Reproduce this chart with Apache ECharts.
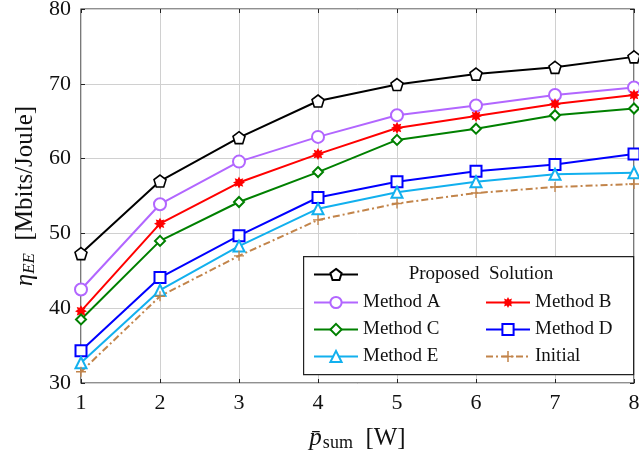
<!DOCTYPE html>
<html>
<head>
<meta charset="utf-8">
<script src="https://cdn.jsdelivr.net/npm/echarts@6/dist/echarts.min.js"></script>
<style>
  html, body { margin: 0; padding: 0; background: #fff; }
  #main { width: 639px; height: 452px; }
</style>
</head>
<body>
<div id="main"></div>
<script>
// x axis values
var xVals = [1, 2, 3, 4, 5, 6, 7, 8];

var proposed = [47.3, 57.0, 62.8, 67.7, 69.9, 71.3, 72.2, 73.6];
var methodA  = [42.5, 53.9, 59.6, 62.9, 65.8, 67.1, 68.5, 69.5];
var methodB  = [39.6, 51.3, 56.8, 60.6, 64.1, 65.7, 67.3, 68.5];
var methodC  = [38.5, 49.0, 54.2, 58.2, 62.5, 64.0, 65.8, 66.7];
var methodD  = [34.3, 44.1, 49.7, 54.8, 56.9, 58.3, 59.2, 60.6];
var methodE  = [32.7, 42.4, 48.3, 53.3, 55.5, 56.9, 57.9, 58.1];
var initial  = [31.5, 41.6, 47.0, 51.8, 54.0, 55.4, 56.2, 56.6];

var yTicks = [30, 40, 50, 60, 70, 80];

function pairs(arr) {
  var out = [];
  for (var i = 0; i < xVals.length; i++) out.push([xVals[i], arr[i]]);
  return out;
}

// marker shapes
function starPath(n, ro, ri) {
  var s = 'path://';
  for (var i = 0; i < n * 2; i++) {
    var r = i % 2 === 0 ? ro : ri;
    var a = Math.PI * i / n - Math.PI / 2;
    s += (i === 0 ? 'M' : 'L') + (r * Math.cos(a)).toFixed(2) + ',' + (r * Math.sin(a)).toFixed(2) + ' ';
  }
  return s + 'Z';
}
var pentagon = 'path://M0,-10 L9.51,-3.09 L5.88,8.09 L-5.88,8.09 L-9.51,-3.09 Z';
var plus = 'path://M-0.8,-6 L0.8,-6 L0.8,-0.8 L6,-0.8 L6,0.8 L0.8,0.8 L0.8,6 L-0.8,6 L-0.8,0.8 L-6,0.8 L-6,-0.8 L-0.8,-0.8 Z';

var serif = 'Liberation Serif';

function mk(name, data, color, symbol, size, hollow, dash) {
  return {
    name: name,
    type: 'line',
    data: pairs(data),
    symbol: symbol,
    symbolSize: size,
    showAllSymbol: true,
    lineStyle: { color: color, width: 2, type: dash || 'solid' },
    itemStyle: hollow
      ? { color: '#fff', borderColor: color, borderWidth: 1.6 }
      : { color: color, borderColor: color, borderWidth: 0 },
    z: 5
  };
}

var myChart = echarts.init(document.getElementById('main'));

var option = {
  backgroundColor: '#fff',
  animation: false,
  grid: {
    left: 81, right: 5, top: 9, bottom: 69,
    outerBoundsMode: 'none', containLabel: false,
    show: true, borderColor: '#222', borderWidth: 1.2
  },
  xAxis: [{
    type: 'value', min: 1, max: 8, interval: 1,
    axisLine: { show: false },
    axisTick: { inside: true, length: 4, lineStyle: { color: '#222' } },
    axisLabel: { fontFamily: serif, fontSize: 22, color: '#111', margin: 9 },
    splitLine: { lineStyle: { color: '#d0d0d0', width: 1 } },
    name: '{p|p̄}{s|sum}  [W]',
    nameLocation: 'middle',
    nameGap: 42,
    nameTextStyle: {
      fontFamily: serif, fontSize: 25, color: '#111',
      rich: {
        p: { fontFamily: serif, fontSize: 25, fontStyle: 'italic', color: '#111' },
        s: { fontFamily: serif, fontSize: 18, color: '#111', padding: [9, 0, 0, 1] }
      }
    }
  }, {
    type: 'value', min: 1, max: 8, interval: 1, position: 'top',
    axisLine: { show: false },
    axisTick: { inside: true, length: 4, lineStyle: { color: '#222' } },
    axisLabel: { show: false },
    splitLine: { show: false }
  }],
  yAxis: [{
    type: 'value', min: yTicks[0], max: yTicks[yTicks.length - 1], interval: 10,
    axisLine: { show: false },
    axisTick: { inside: true, length: 4, lineStyle: { color: '#222' } },
    axisLabel: { fontFamily: serif, fontSize: 22, color: '#111', margin: 10 },
    splitLine: { lineStyle: { color: '#d0d0d0', width: 1 } },
    name: '{e|η}{s|EE}  [Mbits/Joule]',
    nameLocation: 'middle',
    nameGap: 43,
    nameTextStyle: {
      fontFamily: serif, fontSize: 25, color: '#111',
      rich: {
        e: { fontFamily: serif, fontSize: 25, fontStyle: 'italic', color: '#111' },
        s: { fontFamily: serif, fontSize: 17, fontStyle: 'italic', color: '#111', padding: [9, 0, 0, 0] }
      }
    }
  }, {
    type: 'value', min: yTicks[0], max: yTicks[yTicks.length - 1], interval: 10, position: 'right',
    axisLine: { show: false },
    axisTick: { inside: true, length: 4, lineStyle: { color: '#222' } },
    axisLabel: { show: false },
    splitLine: { show: false }
  }],
  graphic: [{
    type: 'rect', left: 303, top: 256, z: 10,
    shape: { width: 330, height: 118 },
    style: { fill: '#fff', stroke: '#222', lineWidth: 1.2 }
  }],
  legend: [{
    data: ['Proposed Solution'],
    left: 313, top: 265, padding: 0, z: 20,
    itemWidth: 44, itemHeight: 14,
    formatter: function (n) { return '{c|Proposed  Solution}'; },
    textStyle: { fontFamily: serif, fontSize: 19, color: '#111',
      rich: { c: { fontFamily: serif, fontSize: 19, color: '#111', width: 236, align: 'center' } } }
  }, {
    data: ['Method A', 'Method C', 'Method E'],
    orient: 'vertical', left: 313, top: 293, padding: 0, z: 20,
    itemWidth: 44, itemHeight: 14, itemGap: 8,
    textStyle: { fontFamily: serif, fontSize: 19, color: '#111' }
  }, {
    data: ['Method B', 'Method D', 'Initial'],
    orient: 'vertical', left: 485, top: 293, padding: 0, z: 20,
    itemWidth: 44, itemHeight: 14, itemGap: 8,
    textStyle: { fontFamily: serif, fontSize: 19, color: '#111' }
  }],
  series: [
    mk('Proposed Solution', proposed, '#000000', pentagon, 12, true),
    mk('Method A', methodA, '#b266ff', 'emptyCircle', 12, false),
    mk('Method B', methodB, '#ff0000', starPath(8, 6, 3.6), 12, false),
    mk('Method C', methodC, '#008000', 'emptyDiamond', 10, false),
    mk('Method D', methodD, '#0000ff', 'emptyRect', 11, false),
    mk('Method E', methodE, '#12b0ee', 'emptyTriangle', 11, false),
    mk('Initial', initial, '#c2844a', plus, 10, false, [7, 3, 2, 3])
  ]
};

myChart.setOption(option);
</script>
</body>
</html>
